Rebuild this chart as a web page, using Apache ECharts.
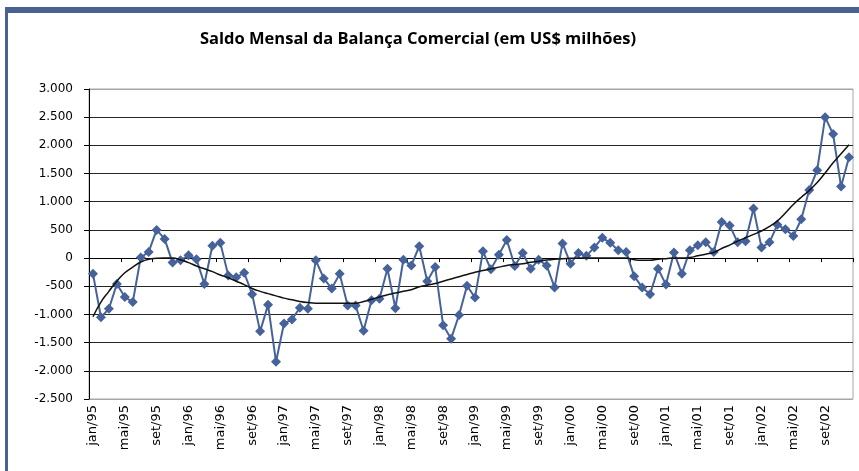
<!DOCTYPE html>
<html>
<head>
<meta charset="utf-8">
<script src="https://cdn.jsdelivr.net/npm/echarts@6/dist/echarts.min.js"></script>
<style>
  html, body { margin: 0; padding: 0; background: #fff; }
  #chart { width: 859px; height: 471px; }
</style>
</head>
<body>
<div id="chart"></div>
<script>
// meses jan/95 .. dez/02
const monthNames = ["jan", "fev", "mar", "abr", "mai", "jun", "jul", "ago", "set", "out", "nov", "dez"];
const years = ["95", "96", "97", "98", "99", "00", "01", "02"];
const categories = [];
years.forEach(y => monthNames.forEach(m => categories.push(m + "/" + y)));

// saldo mensal (US$ milhões)
const saldo = [
  -280, -1050, -900, -460, -690, -780, 10, 110, 500, 340, -80, -40,
  50, -20, -460, 220, 270, -310, -340, -260, -640, -1300, -830, -1840,
  -1160, -1090, -880, -900, -40, -360, -540, -280, -840, -840, -1290, -750,
  -720, -190, -890, -30, -130, 210, -410, -160, -1190, -1430, -1010, -490,
  -700, 120, -200, 60, 320, -140, 90, -190, -30, -130, -520, 260,
  -100, 90, 40, 190, 360, 270, 140, 110, -320, -520, -640, -190,
  -470, 100, -280, 140, 230, 280, 110, 640, 580, 280, 300, 880,
  190, 280, 590, 510, 390, 690, 1210, 1560, 2500, 2200, 1270, 1790
];

// linha de tendência (preta)
const tendencia = [
  -1040, -780, -590, -410, -260, -160, -70, -20, -5, 0, 0, -30,
  -80, -140, -190, -240, -300, -350, -410, -470, -540, -590, -630, -670,
  -710, -740, -770, -790, -800, -800, -800, -800, -800, -800, -770, -730,
  -690, -650, -620, -590, -560, -510, -480, -450, -410, -370, -330, -290,
  -250, -220, -190, -160, -130, -115, -100, -75, -55, -35, -20, -10,
  -5, 0, 0, 0, 0, 0, 0, 0, -30, -40, -40, -20,
  -10, 0, 0, 10, 40, 70, 100, 170, 230, 300, 360, 420,
  480, 560, 660, 800, 950, 1080, 1200, 1340, 1510, 1690, 1850, 2010
];

const yMin = -2500;
const yMax = 3000;
const yStep = 500;

const fmt = v => {
  const s = Math.abs(v).toString().replace(/\B(?=(\d{3})+(?!\d))/g, ".");
  return (v < 0 ? "-" : "") + s;
};

const chart = echarts.init(document.getElementById("chart"));

// cores das linhas de grade: borda cinza em cima e embaixo
const gridColors = [];
for (let v = yMin; v <= yMax; v += yStep) {
  gridColors.push(v === yMin || v === yMax ? "#a6a6a6" : "#262626");
}

const option = {
  animation: false,
  backgroundColor: "#fff",
  title: {
    text: "Saldo Mensal da Balança Comercial (em US$ milhões)",
    left: 413,
    top: 26,
    textAlign: "center",
    textStyle: {
      fontFamily: "Open Sans",
      fontWeight: "bold",
      fontSize: 16.5,
      color: "#000"
    }
  },
  graphic: [
    // moldura azul (topo e esquerda)
    { type: "rect", left: 5, top: 7, shape: { width: 854, height: 6 }, style: { fill: "#4A6290" } },
    { type: "rect", left: 5, top: 7, shape: { width: 3, height: 464 }, style: { fill: "#4A6290" } }
  ],
  grid: {
    left: 89,
    right: 6,
    top: 89,
    bottom: 72,
    show: true,
    borderColor: "#a6a6a6",
    borderWidth: 1
  },
  xAxis: [
    {
      type: "category",
      data: categories,
      boundaryGap: true,
      axisLine: { onZero: true, lineStyle: { color: "#000", width: 1 } },
      axisTick: { show: true, interval: 3, length: 4, lineStyle: { color: "#000" } },
      axisLabel: { show: false },
      splitLine: { show: false }
    },
    {
      type: "category",
      data: categories,
      boundaryGap: true,
      position: "bottom",
      axisLine: { show: false, onZero: false },
      axisTick: { show: false },
      axisLabel: {
        interval: 3,
        rotate: 90,
        margin: 6,
        fontFamily: "DejaVu Sans",
        fontSize: 13,
        color: "#000"
      },
      splitLine: { show: false }
    }
  ],
  yAxis: {
    type: "value",
    min: yMin,
    max: yMax,
    interval: yStep,
    axisLine: { show: true, lineStyle: { color: "#000", width: 1 } },
    axisTick: { show: true, length: 5, lineStyle: { color: "#000" } },
    axisLabel: {
      margin: 16,
      fontFamily: "DejaVu Sans",
      fontSize: 12,
      color: "#000",
      formatter: fmt
    },
    splitLine: { show: true, lineStyle: { color: gridColors, width: 1 } }
  },
  series: [
    {
      name: "Saldo",
      type: "line",
      data: saldo,
      xAxisIndex: 0,
      symbol: "diamond",
      symbolSize: 10,
      showSymbol: true,
      showAllSymbol: true,
      lineStyle: { color: "#46629A", width: 2 },
      itemStyle: { color: "#46629A" },
      z: 3
    },
    {
      name: "Tendência",
      type: "line",
      data: tendencia,
      xAxisIndex: 0,
      symbol: "none",
      smooth: true,
      lineStyle: { color: "#111", width: 1.5 },
      z: 4
    }
  ]
};

chart.setOption(option);
</script>
</body>
</html>
